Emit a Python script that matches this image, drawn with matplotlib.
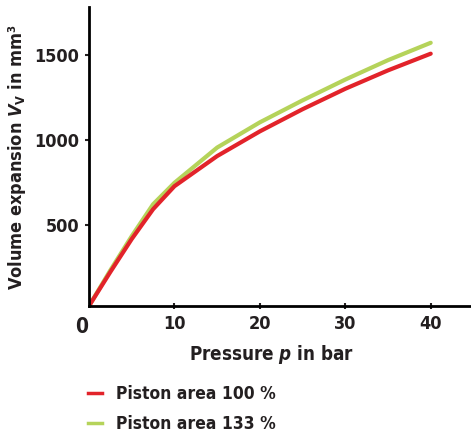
import matplotlib
matplotlib.use("Agg")
import matplotlib.pyplot as plt
from matplotlib.lines import Line2D

plt.rcParams["font.family"] = ["DejaVu Sans"]
plt.rcParams["font.stretch"] = "condensed"

# pressure p in bar
pressure = [0, 2.5, 5, 7.5, 10, 15, 20, 25, 30, 35, 40]
# volume expansion in mm^3
area_100 = [25, 225, 418, 593, 728, 905, 1050, 1180, 1300, 1408, 1506]
area_133 = [25, 235, 435, 622, 748, 955, 1103, 1232, 1354, 1468, 1570]

labels = ["Piston area 100 %", "Piston area 133 %"]
colors = ["#e2232a", "#b5d35a"]
x_ticks = [10, 20, 30, 40]
y_ticks = [500, 1000, 1500]

fig = plt.figure(figsize=(4.71, 4.34), dpi=100)
ax = fig.add_axes([89 / 471, 1 - 306 / 434, 381 / 471, 299 / 434])

ax.plot(pressure, area_133, color=colors[1], lw=3.0, solid_capstyle="round")
ax.plot(pressure, area_100, color=colors[0], lw=3.0, solid_capstyle="round")

ax.set_xlim(0, 44.6)
ax.set_ylim(25, 1780)
ax.set_xticks(x_ticks)
ax.set_yticks(y_ticks)
ax.spines["top"].set_visible(False)
ax.spines["right"].set_visible(False)
for s in ("left", "bottom"):
    ax.spines[s].set_linewidth(2)
ax.tick_params(axis="both", width=1.5, length=3, labelsize=13, pad=4,
               colors="#231f20")
ax.tick_params(axis="x", direction="inout", length=5)
for lab in ax.get_xticklabels():
    lab.set_fontweight("semibold")
for lab in ax.get_yticklabels():
    lab.set_fontweight("bold")

fig.text(82 / 471, 1 - 327 / 434, "0", fontsize=15, fontweight="bold",
         ha="center", va="center", color="#231f20")
fig.text(272 / 471, 1 - 355 / 434, "Pressure $\\boldsymbol{p}$ in bar",
         fontsize=13.5, fontweight="bold", ha="center", va="center",
         color="#231f20")
fig.text(17 / 471, 1 - 157 / 434,
         "Volume expansion $\\boldsymbol{V}_{\\mathbf{V}}$ in mm³",
         fontsize=13, fontweight="bold", ha="center", va="center",
         rotation=90, color="#231f20")

handles = [Line2D([], [], color=c, lw=2.5) for c in colors]
leg = fig.legend(handles, labels, loc="upper left",
                 bbox_to_anchor=(81 / 471, 1 - 378 / 434),
                 frameon=False, handlelength=0.8, labelspacing=0.72,
                 handletextpad=0.8, borderaxespad=0,
                 prop={"weight": "semibold", "size": 12.5,
                       "stretch": "condensed"})
for t in leg.get_texts():
    t.set_color("#231f20")

fig.savefig("out.png", dpi=100)
